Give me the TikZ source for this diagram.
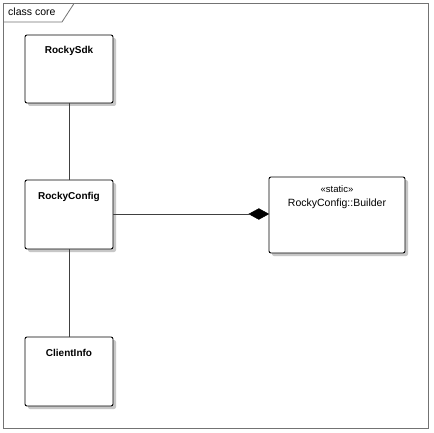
\documentclass[tikz,border=0pt]{standalone}
\usepackage{fontspec}
\setmainfont{Liberation Sans}
\usetikzlibrary{shapes.geometric}
\begin{document}
\begin{tikzpicture}[x=1pt,y=-1pt,
  cls/.style={draw=black, line width=0.9pt, fill=white, rounded corners=2pt},
  shadowbox/.style={fill=black!22, draw=none, rounded corners=2pt},
  title/.style={font=\fontsize{10}{12}\selectfont\bfseries, anchor=base},
  link/.style={draw=black!75, line width=0.8pt}]
\useasboundingbox (0,0) rectangle (433,433);
\fill[white] (0,0) rectangle (433,433);
% frame
\draw[black!55, line width=0.8pt] (3.5,3.5) rectangle (428.5,428.5);
\draw[black!55, line width=0.8pt, fill=white] (3.5,3.5) -- (74,3.5) -- (62,22) -- (3.5,22) -- cycle;
\node[anchor=base west, font=\fontsize{10.5}{12}\selectfont, inner sep=0pt] (frametitle) at (8,16) {class core};
% shadows
\foreach \a/\b/\c/\d in {25/35/113/103, 25/180/113/249, 25/337/113/406, 269/177/405/253}{
  \path[shadowbox] (\a+3,\b+3) rectangle (\c+3,\d+3);
}
% boxes
\path[cls] (25,35) rectangle (113,103);
\coordinate (sdkN) at (69,35);
\coordinate (sdkS) at (69,103);
\path[cls] (25,180) rectangle (113,249);
\coordinate (cfgN) at (69,180);
\coordinate (cfgS) at (69,249);
\coordinate (cfgE) at (113,214);
\path[cls] (25,337) rectangle (113,406);
\coordinate (ciN) at (69,337);
\path[cls] (269,177) rectangle (405,253);
\coordinate (bW) at (269,214);
\node[title] (sdk) at (69,54) {RockySdk};
\node[title] (cfg) at (69,199) {RockyConfig};
\node[title] (ci) at (69,356) {ClientInfo};
\node[anchor=base, font=\fontsize{9.5}{11}\selectfont, inner sep=0pt] (st) at (337,192) {«static»};
\node[anchor=base, font=\fontsize{10.5}{12}\selectfont, inner sep=0pt] (bld) at (337,206) {RockyConfig::Builder};
% connectors
\draw[link] (sdkS) -- (cfgN);
\draw[link] (cfgS) -- (ciN);
\node[diamond, fill=black, draw=black, inner sep=0pt, minimum width=20pt, minimum height=11pt, anchor=east] (dia) at (bW) {};
\draw[link] (cfgE) -- (dia.west);
\end{tikzpicture}
\end{document}
